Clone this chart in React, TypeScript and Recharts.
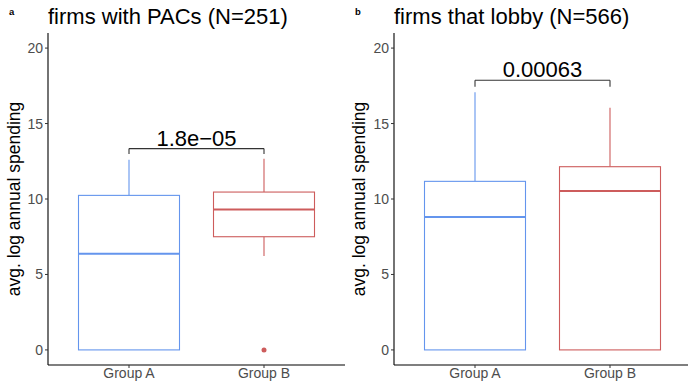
import * as React from "react";
import { Bar, ComposedChart, ReferenceLine, Scatter, XAxis, YAxis } from "recharts";

// box statistics per group
const categories = ["Group A", "Group B"];
const colors = ["#6495ED", "#CD5C5C"];

const pacsLow = [0, 6.22];
const pacsQ1 = [0, 7.5];
const pacsMedian = [6.37, 9.31];
const pacsQ3 = [10.24, 10.46];
const pacsHigh = [12.6, 12.67];
const pacsOutliers = [[], [0]];

const lobbyLow = [0, 0];
const lobbyQ1 = [0, 0];
const lobbyMedian = [8.8, 10.53];
const lobbyQ3 = [11.17, 12.14];
const lobbyHigh = [17.07, 16.04];
const lobbyOutliers = [[], []];

const yTicks = [0, 5, 10, 15, 20];

const pacsP = "1.8e\u221205";
const pacsBracket = [13.34, 12.99]; // line, tip end
const lobbyP = "0.00063";
const lobbyBracket = [17.87, 17.43];

const FONT = '"Liberation Sans", Arial, sans-serif';

function buildRows(low: number[], q1: number[], med: number[], q3: number[], high: number[]) {
  return categories.map((name, i) => ({
    name,
    range: [low[i], high[i]],
    low: low[i],
    q1: q1[i],
    med: med[i],
    q3: q3[i],
    high: high[i],
    color: colors[i],
  }));
}

function buildOutliers(outliers: number[][]) {
  return outliers.flatMap((vals, i) => vals.map((v) => ({ name: categories[i], value: v, color: colors[i] })));
}

/// whole box drawn inside the range bar, positions taken from the bar's own low..high span
function BoxShape(props: any): React.ReactElement {
  const { x, y, width, height, payload } = props;
  const top = Math.min(y, y + height);
  const bottom = Math.max(y, y + height);
  const { low, high, q1, med, q3, color } = payload;
  const span = high - low;
  const px = (v: number) => (span === 0 ? bottom : bottom - ((v - low) / span) * (bottom - top));
  const cx = x + width / 2;
  return (
    <g>
      <line x1={cx} x2={cx} y1={px(high)} y2={px(q3)} stroke={color} strokeWidth={1.1} />
      <line x1={cx} x2={cx} y1={px(q1)} y2={px(low)} stroke={color} strokeWidth={1.1} />
      <rect x={x} y={px(q3)} width={width} height={px(q1) - px(q3)} fill="#fff" stroke={color} strokeWidth={1.1} />
      <line x1={x} x2={x + width} y1={px(med)} y2={px(med)} stroke={color} strokeWidth={2} />
    </g>
  );
}

function Panel(props: {
  rows: any[];
  outliers: any[];
  p: string;
  bracket: number[];
  width: number;
  axisWidth: number;
  right: number;
}) {
  const { rows, outliers, p, bracket, width, axisWidth, right } = props;
  const bracketColor = "#333";
  return (
    <ComposedChart
      width={width}
      height={382}
      data={rows}
      margin={{ top: 33, right, bottom: 0, left: 0 }}
      style={{ fontFamily: FONT }}
    >
      <XAxis
        dataKey="name"
        type="category"
        allowDuplicatedCategory={false}
        interval={0}
        padding={{ left: 13.5, right: 13.5 }}
        height={17}
        tickSize={3}
        tickMargin={0}
        axisLine={{ stroke: "#000", strokeWidth: 1.1 }}
        tickLine={{ stroke: "#333" }}
        tick={{ fill: "#4d4d4d", fontSize: 14 }}
      />
      <YAxis
        type="number"
        domain={[-1, 21]}
        ticks={yTicks}
        width={axisWidth}
        tickSize={3}
        tickMargin={2}
        axisLine={{ stroke: "#000", strokeWidth: 1.1 }}
        tickLine={{ stroke: "#333" }}
        tick={{ fill: "#4d4d4d", fontSize: 14 }}
      />
      <Bar dataKey="range" barSize={101} shape={BoxShape} isAnimationActive={false} />
      {outliers.length > 0 && (
        <Scatter
          data={outliers}
          dataKey="value"
          isAnimationActive={false}
          shape={(s: any) => <circle cx={s.cx} cy={s.cy} r={2.5} fill={s.payload.color} />}
        />
      )}
      <ReferenceLine
        segment={[
          { x: categories[0], y: bracket[0] },
          { x: categories[1], y: bracket[0] },
        ]}
        stroke={bracketColor}
        strokeWidth={1.1}
        label={{ value: p, position: "top", offset: 3, fontSize: 22, fill: "#000" }}
      />
      <ReferenceLine
        segment={[
          { x: categories[0], y: bracket[0] },
          { x: categories[0], y: bracket[1] },
        ]}
        stroke={bracketColor}
        strokeWidth={1.1}
      />
      <ReferenceLine
        segment={[
          { x: categories[1], y: bracket[0] },
          { x: categories[1], y: bracket[1] },
        ]}
        stroke={bracketColor}
        strokeWidth={1.1}
      />
    </ComposedChart>
  );
}

export default function App() {
  const pacsRows = buildRows(pacsLow, pacsQ1, pacsMedian, pacsQ3, pacsHigh);
  const lobbyRows = buildRows(lobbyLow, lobbyQ1, lobbyMedian, lobbyQ3, lobbyHigh);
  const yLabel = "avg. log annual spending";
  return (
    <div
      style={{
        position: "absolute",
        left: 0,
        top: 0,
        width: 688,
        height: 382,
        overflow: "hidden",
        background: "#fff",
        fontFamily: FONT,
      }}
    >
      <div style={{ position: "absolute", left: 0, top: 0 }}>
        <Panel rows={pacsRows} outliers={buildOutliers(pacsOutliers)} p={pacsP} bracket={pacsBracket} width={346} axisWidth={48} right={1} />
      </div>
      <div style={{ position: "absolute", left: 344, top: 0 }}>
        <Panel rows={lobbyRows} outliers={buildOutliers(lobbyOutliers)} p={lobbyP} bracket={lobbyBracket} width={350} axisWidth={50} right={3} />
      </div>
      <svg width={688} height={382} style={{ position: "absolute", left: 0, top: 0, pointerEvents: "none" }}>
        <text x={9} y={15} fontSize={9.5} fontWeight="bold" fill="#000">a</text>
        <text x={355} y={15} fontSize={9.5} fontWeight="bold" fill="#000">b</text>
        <text x={48} y={23.5} fontSize={22} fill="#000">firms with PACs (N=251)</text>
        <text x={394} y={23.5} fontSize={22} fill="#000">firms that lobby (N=566)</text>
        <text x={19.5} y={199} fontSize={17.5} fill="#000" textAnchor="middle" transform="rotate(-90 19.5 199)">
          {yLabel}
        </text>
        <text x={365} y={199} fontSize={17.5} fill="#000" textAnchor="middle" transform="rotate(-90 365 199)">
          {yLabel}
        </text>
      </svg>
    </div>
  );
}
